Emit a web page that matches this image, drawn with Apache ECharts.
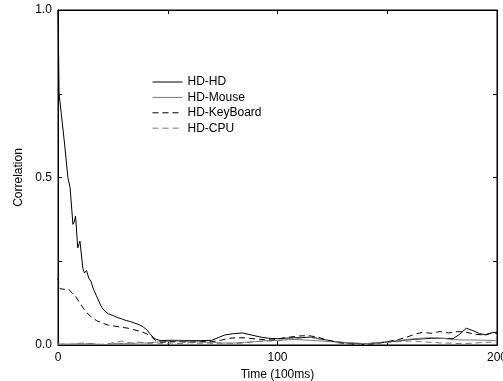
<!DOCTYPE html>
<html>
<head>
<meta charset="utf-8">
<script src="https://cdn.jsdelivr.net/npm/echarts@6/dist/echarts.min.js"></script>
<style>
  html, body { margin: 0; padding: 0; background: #fff; }
  #chart { width: 503px; height: 381px; }
</style>
</head>
<body>
<div id="chart"></div>
<script>
// series names
var seriesNames = ['HD-HD', 'HD-Mouse', 'HD-KeyBoard', 'HD-CPU'];

// HD-HD (solid black)
var hdHdX = [0,0.3,0.5,1.5,3,4.5,5.5,6.8,7.5,8,9,10,11.3,12,13,14,15,16,17.5,19,20,21.5,23,25,27,29,31,33,35,37,39,40.5,42,43.5,45,47,50,55,60,65,70,73,76,80,84,88,92,96,100,105,110,115,118,122,126,130,135,140,145,150,155,160,165,170,175,180,183,186,189,192,195,198,200];
var hdHdY = [1.0,0.85,0.75,0.69,0.6,0.5,0.47,0.36,0.37,0.385,0.29,0.31,0.23,0.215,0.222,0.2,0.19,0.17,0.147,0.125,0.112,0.1,0.093,0.088,0.082,0.078,0.073,0.07,0.065,0.061,0.053,0.045,0.033,0.022,0.016,0.013,0.014,0.014,0.013,0.013,0.014,0.022,0.03,0.034,0.036,0.03,0.024,0.02,0.019,0.021,0.022,0.023,0.02,0.015,0.01,0.007,0.005,0.004,0.006,0.009,0.012,0.016,0.018,0.02,0.02,0.019,0.032,0.05,0.043,0.034,0.03,0.037,0.038];

// HD-Mouse (solid grey)
var hdMouseX = [0,3,6,9,12,15,18,21,24,27,30,33,36,40,44,48,52,56,60,65,70,75,80,85,90,95,100,105,110,115,120,125,130,135,140,145,150,155,160,165,170,175,180,185,190,195,200];
var hdMouseY = [0.002,0.003,0.002,0.004,0.003,0.005,0.002,0.001,0.003,0.005,0.004,0.004,0.006,0.006,0.008,0.01,0.011,0.012,0.01,0.009,0.008,0.006,0.006,0.008,0.01,0.013,0.014,0.016,0.016,0.014,0.012,0.01,0.008,0.006,0.004,0.006,0.01,0.013,0.017,0.02,0.022,0.02,0.016,0.015,0.015,0.014,0.014];

// HD-KeyBoard (dashed black)
var hdKeyX = [0,0.5,1,3,4,5,6,8,10,11.5,13,15,17.5,20,23,26,29,32,35,38,40.5,42.5,44.5,47,50,55,60,65,70,74,78,82,86,90,94,98,102,106,110,114,118,122,126,130,135,140,145,150,155,160,163,166,170,174,178,182,186,190,194,197,200];
var hdKeyY = [0.2,0.175,0.168,0.166,0.163,0.166,0.158,0.145,0.125,0.11,0.097,0.085,0.073,0.066,0.059,0.056,0.053,0.05,0.045,0.04,0.033,0.025,0.013,0.008,0.009,0.01,0.008,0.01,0.01,0.014,0.02,0.022,0.021,0.018,0.016,0.015,0.02,0.024,0.027,0.028,0.024,0.016,0.01,0.005,0.002,0.001,0.004,0.01,0.016,0.026,0.033,0.038,0.035,0.04,0.036,0.04,0.038,0.032,0.03,0.035,0.034];

// HD-CPU (dashed grey)
var hdCpuX = [0,4,8,12,16,20,24,27,29,31,34,37,40,44,48,52,56,60,64,68,72,76,80,85,90,95,100,105,110,114,118,122,126,130,135,140,145,150,155,160,165,170,175,180,185,190,195,200];
var hdCpuY = [0.003,0.002,0.004,0.006,0.003,0.002,0.005,0.009,0.012,0.008,0.006,0.009,0.005,0.003,0.004,0.006,0.004,0.007,0.005,0.006,0.004,0.003,0.004,0.006,0.01,0.012,0.012,0.018,0.02,0.024,0.02,0.013,0.008,0.004,0.002,0.002,0.005,0.008,0.01,0.012,0.01,0.008,0.006,0.005,0.004,0.006,0.008,0.009];

// tick labels
var xLabels = [0, 100, 200];
var yLabels = [0, 0.5, 1];

function pairs(xs, ys) {
    var arr = [];
    for (var i = 0; i < xs.length; i++) {
        arr.push([xs[i], ys[i]]);
    }
    return arr;
}

function mkSeries(name, xs, ys, color, dashed) {
    return {
        name: name,
        type: 'line',
        symbol: 'none',
        data: pairs(xs, ys),
        lineStyle: {
            color: color,
            width: 1,
            type: dashed ? [6, 4] : 'solid'
        },
        itemStyle: { color: color }
    };
}

var font = 'Liberation Sans, Arial, Helvetica, sans-serif';
var tickLen = 4;
var lineCol = { color: '#000', width: 1 };

var myChart = echarts.init(document.getElementById('chart'));
var option = {
    animation: false,
    textStyle: { fontFamily: font },
    grid: {
        left: 58, right: 6, top: 10, bottom: 36,
        outerBoundsMode: 'none',
        containLabel: false,
        show: true,
        borderColor: '#000',
        borderWidth: 1,
        backgroundColor: 'rgba(0,0,0,0)'
    },
    legend: {
        orient: 'vertical',
        left: 147,
        top: 71,
        itemWidth: 30,
        itemHeight: 12,
        itemGap: 3.4,
        data: seriesNames,
        itemStyle: { opacity: 0 },
        lineStyle: { width: 1 },
        textStyle: { color: '#000', fontSize: 12, fontFamily: font }
    },
    xAxis: [{
        type: 'value',
        min: 0,
        max: 200,
        interval: 50,
        name: 'Time (100ms)',
        nameLocation: 'middle',
        nameGap: 20,
        nameTextStyle: { color: '#000', fontSize: 12 },
        axisLine: { onZero: false, lineStyle: lineCol },
        axisTick: { inside: true, length: tickLen, lineStyle: { color: '#000' } },
        axisLabel: {
            color: '#000', fontSize: 12, margin: 7,
            formatter: function (v) { return xLabels.indexOf(v) >= 0 ? String(v) : ''; }
        },
        splitLine: { show: false }
    }, {
        // mirrored ticks along the top edge
        type: 'value',
        position: 'top',
        min: 0,
        max: 200,
        interval: 50,
        axisLine: { show: true, onZero: false, lineStyle: lineCol },
        axisTick: { show: true, inside: true, length: tickLen, lineStyle: { color: '#000' } },
        axisLabel: { show: false },
        splitLine: { show: false }
    }],
    yAxis: [{
        type: 'value',
        min: 0,
        max: 1,
        interval: 0.25,
        name: 'Correlation',
        nameLocation: 'middle',
        nameGap: 30,
        nameTextStyle: { color: '#000', fontSize: 12 },
        axisLine: { show: true, onZero: false, lineStyle: lineCol },
        axisTick: { show: true, inside: true, length: tickLen, lineStyle: { color: '#000' } },
        axisLabel: {
            color: '#000', fontSize: 12, margin: 6,
            formatter: function (v) { return yLabels.indexOf(v) >= 0 ? v.toFixed(1) : ''; }
        },
        splitLine: { show: false }
    }, {
        // mirrored ticks along the right edge
        type: 'value',
        position: 'right',
        min: 0,
        max: 1,
        interval: 0.25,
        axisLine: { show: true, onZero: false, lineStyle: lineCol },
        axisTick: { show: true, inside: true, length: tickLen, lineStyle: { color: '#000' } },
        axisLabel: { show: false },
        splitLine: { show: false }
    }],
    series: [
        mkSeries('HD-HD', hdHdX, hdHdY, '#000', false),
        mkSeries('HD-Mouse', hdMouseX, hdMouseY, '#777', false),
        mkSeries('HD-KeyBoard', hdKeyX, hdKeyY, '#000', true),
        mkSeries('HD-CPU', hdCpuX, hdCpuY, '#777', true)
    ]
};
myChart.setOption(option);
</script>
</body>
</html>
